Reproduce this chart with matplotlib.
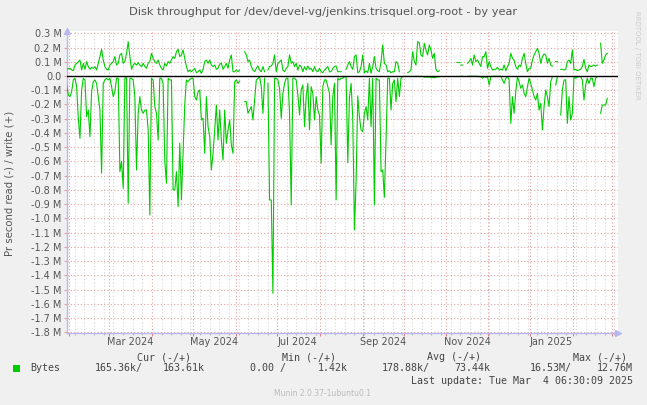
import numpy as np
import pandas as pd
import matplotlib
matplotlib.use('Agg')
import matplotlib.pyplot as plt
import matplotlib.dates as mdates
from matplotlib.ticker import MultipleLocator, FuncFormatter
from matplotlib.patches import Rectangle

nan = np.nan

# ---- data: Munin daily-consolidated disk throughput (bytes/s, in thousands) ----
start = '2024-01-30 02:00'
step = '29h'

write_k = [
    47, 52, 54, 42, 37, 77, 89, 101, 112, 42,
    89, 47, 101, 66, 47, 61, 54, 66, 42, 89,
    136, 187, 112, 66, 47, 42, 77, 89, 101, 136,
    77, 89, 148, 159, 89, 101, 159, 241, 136, 47,
    77, 89, 77, 94, 77, 66, 89, 66, 54, 89,
    101, 159, 124, 101, 89, 112, 77, 54, 42, 89,
    70, 101, 89, 112, 136, 124, 171, 187, 136, 148,
    183, 124, 66, 30, 42, 30, 42, 54, 23, 30,
    42, 19, 47, 101, 112, 89, 112, 77, 66, 77,
    47, 54, 84, 89, 47, 66, 89, 54, 112, 148,
    30, 30, 42, 30, 42, nan, nan, 171, 148, 101,
    112, 66, 42, 30, 54, 70, 42, 30, 66, 30,
    nan, 42, 66, 70, 89, 148, 30, 89, 101, 112,
    42, 30, 54, 66, 148, 89, 101, 66, 89, 42,
    77, 66, 30, 66, 42, 70, 47, 54, 30, 66,
    37, 30, 54, 30, 23, 42, 54, 66, 30, 30,
    54, 66, 70, 30, 30, 30, nan, nan, 47, 77,
    101, 66, 47, 136, 148, 23, 30, 66, 148, 23,
    37, 23, 89, 19, 66, 136, 54, 37, 30, 101,
    218, 89, 77, 30, 37, 23, 30, 30, 101, 89,
    30, nan, nan, nan, nan, 23, 30, 42, 171, 101,
    77, 241, 234, 148, 136, 230, 183, 148, 218, 183,
    124, 159, 47, 30, 37, nan, nan, nan, nan, nan,
    nan, nan, nan, nan, nan, 96, nan, 77, 77, nan,
    nan, 89, 101, 124, 77, 148, 101, 112, 89, 66,
    136, 136, 171, 54, 101, 66, 42, 47, 47, 61,
    42, 47, 42, 77, 37, 66, 89, 159, 124, 112,
    66, 47, 77, 66, 124, 159, 89, 30, 54, 54,
    112, 148, 171, 194, 159, 89, 136, 155, 148, 89,
    124, 77, 70, nan, 101, 101, nan, 47, 47, 42,
    47, 101, 112, 89, 183, 42, 47, 37, 42, 47,
    66, 117, 54, 30, 77, 66, 70, 77, 70, 77,
    nan, 230, 89, 112, 148, 159,
]

read_k = [
    -63, -133, -145, -110, -28, -16, -75, -297, -438, -100,
    -16, -28, -286, -239, -426, -110, -40, -28, -52, -145,
    -239, -683, -52, -28, -16, -28, -16, -75, -145, -110,
    -16, -16, -672, -601, -789, -16, -5, -894, -16, -16,
    -28, -145, -660, -262, -145, -239, -262, -239, -239, -379,
    -976, -16, -28, -215, -262, -450, -16, -16, -52, -600,
    -753, -16, -28, -28, -800, -800, -672, -917, -472, -870,
    -543, -200, -28, -40, -23, -16, -16, -145, -169, -110,
    -98, -309, -297, -543, -145, -356, -426, -660, -543, -379,
    -204, -449, -239, -450, -590, -239, -473, -379, -309, -484,
    -543, -40, -28, -52, -35, nan, nan, -180, -180, -262,
    -239, -215, -309, -169, -28, -16, -5, -75, -262, -16,
    nan, -52, -871, -871, -1526, -16, -16, -28, -87, -297,
    -122, -52, -16, -16, -262, -906, -16, -16, -28, -133,
    -274, -98, -63, -356, -145, -52, -379, -75, -122, -309,
    -145, -239, -274, -613, -75, -28, -28, -75, -122, -484,
    -145, -52, -871, -16, -28, -16, -16, -5, -5, -609,
    -150, -52, -300, -1081, -742, -140, -286, -379, -391, -262,
    -215, -309, -16, -356, -16, -906, -16, -28, -28, -672,
    -660, -852, -450, -16, -16, -239, -52, -28, -180, -16,
    -145, -16, -5, -3, -3, -3, -3, -3, -3, -3,
    -3, -3, -3, -3, -3, -9, -5, -9, -5, -12,
    -9, -12, -9, -5, -5, nan, nan, nan, nan, nan,
    nan, nan, nan, nan, nan, -2, nan, -2, -2, nan,
    nan, -2, -2, -2, -2, -2, -2, -2, -5, -5,
    -16, -5, -9, -5, -63, -5, -2, -2, -2, -2,
    -2, -2, -28, -52, -16, -5, -28, -333, -145, -262,
    -110, -5, -40, -87, -63, -122, -145, -75, -16, -52,
    -98, -145, -169, -122, -239, -192, -379, -215, -98, -145,
    -215, -40, -5, nan, -63, -5, nan, -274, -98, -28,
    -28, -333, -145, -309, -262, -5, -16, -5, -5, -5,
    -28, -169, -63, -16, -52, -16, -16, -75, -16, -5,
    nan, -262, -204, -204, -204, -157,
]

month_labels = ['Mar 2024', 'May 2024', 'Jul 2024', 'Sep 2024', 'Nov 2024', 'Jan 2025']
month_label_dates = ['2024-03-16', '2024-05-16', '2024-07-16', '2024-09-16', '2024-11-16', '2025-01-16']

title = 'Disk throughput for /dev/devel-vg/jenkins.trisquel.org-root - by year'
ylabel = 'Pr second read (-) / write (+)'
legend_name = 'Bytes'
stat_heads = ['Cur (-/+)', 'Min (-/+)', 'Avg (-/+)', 'Max (-/+)']
stat_vals = [('165.36k/', '163.61k'), ('0.00 /', '1.42k'), ('178.88k/', '73.44k'), ('16.53M/', '12.76M')]
last_update = 'Last update: Tue Mar  4 06:30:09 2025'
footer = 'Munin 2.0.37-1ubuntu0.1'
side = 'RRDTOOL / TOBI OETIKER'

# ---- figure ----
W, H = 647, 405
fig = plt.figure(figsize=(W / 100, H / 100), dpi=100, facecolor='#f0f0f0')
L, R, T, B = 67, 618, 31, 333
ax = fig.add_axes([L / W, 1 - B / H, (R - L) / W, (B - T) / H])
ax.set_facecolor('white')

t = pd.date_range(start, periods=len(write_k), freq=step)
w = np.array(write_k, dtype=float) / 1000.0
r = np.array(read_k, dtype=float) / 1000.0

green = '#00cc00'
ax.plot(t, w, color=green, lw=0.8, zorder=4)
ax.plot(t, r, color=green, lw=0.8, zorder=4)

def isolated(a):
    ok = ~np.isnan(a)
    prev = np.r_[False, ok[:-1]]
    nxt = np.r_[ok[1:], False]
    return ok & ~prev & ~nxt

for arr in (w, r):
    m = isolated(arr)
    ax.plot(t[m], arr[m], ls='none', marker='_', ms=3, mew=0.8, color=green, zorder=4)

ax.axhline(0, color='black', lw=1.0, zorder=5)

ax.set_xlim(pd.Timestamp('2024-01-30 08:00'), pd.Timestamp('2025-03-05 14:00'))
ax.set_ylim(-1.805, 0.316)

# grids
ax.yaxis.set_major_locator(MultipleLocator(0.1))
ax.yaxis.set_major_formatter(FuncFormatter(lambda v, p: '0.0' if abs(v) < 1e-9 else f'{v:.1f} M'))
ax.xaxis.set_major_locator(mdates.MonthLocator())
ax.xaxis.set_minor_locator(mdates.WeekdayLocator(byweekday=mdates.MO))
ax.xaxis.set_major_formatter(plt.NullFormatter())

ax.grid(which='minor', axis='x', color='#d4d4d4', ls=(0, (1, 2)), lw=0.8, zorder=1)
ax.grid(which='major', axis='x', color='#e4a0a0', ls=(0, (1, 2)), lw=0.8, zorder=2)
ax.grid(which='major', axis='y', color='#e4a0a0', ls=(0, (1, 2)), lw=0.8, zorder=2)

ax.tick_params(axis='y', which='major', length=2, width=0.8, color='#e4a0a0',
               labelsize=7, labelcolor='#555555', pad=2)
ax.tick_params(axis='x', which='major', length=2, width=0.8, color='#e08080')
ax.tick_params(axis='x', which='minor', length=1.5, width=0.8, color='#bbbbbb')

for s in ('top', 'right'):
    ax.spines[s].set_visible(False)
for s in ('left', 'bottom'):
    ax.spines[s].set_color('#b8b8ee')
    ax.spines[s].set_linewidth(1.0)

# axis arrows
ax.plot([0], [1.0], marker='^', ms=4.5, color='#b8b8ee', transform=ax.transAxes, clip_on=False, zorder=6)
ax.plot([1.0], [0], marker='>', ms=4.5, color='#b8b8ee', transform=ax.transAxes, clip_on=False, zorder=6)

# month labels
for lab, d in zip(month_labels, month_label_dates):
    ax.text(pd.Timestamp(d), -0.03, lab, transform=ax.get_xaxis_transform(),
            ha='center', va='center', fontsize=7, color='#555555')

def ft(x, y, s, **kw):
    fig.text(x / W, 1 - y / H, s, **kw)

ft(323, 12, title, ha='center', va='center', fontsize=8.2, color='#555555')
ft(10, 183, ylabel, ha='center', va='center', rotation=90, fontsize=7.3, color='#555555')
ft(637, 55, side, ha='center', va='center', rotation=270, fontsize=5, color='#cccccc')

mono = dict(family='DejaVu Sans Mono', fontsize=7.2, color='#444444', va='center')
fig.patches.append(Rectangle((13 / W, 1 - 372 / H), 7 / W, 7 / H, transform=fig.transFigure,
                             facecolor=green, edgecolor='none'))
ft(30, 368, legend_name, ha='left', **mono)
head_x = [137, 282, 427, 573]
for hx, hd in zip(head_x, stat_heads):
    ft(hx, 357, hd, ha='left', **mono)
val_x = [(95, 163), (250, 318), (382, 454), (530, 597)]
for (x1, x2), (a, b) in zip(val_x, stat_vals):
    ft(x1, 368, a, ha='left', **mono)
    ft(x2, 368, b, ha='left', **mono)
ft(633, 381, last_update, ha='right', **mono)
ft(323, 394, footer, ha='center', va='center', fontsize=5.5, color='#bbbbbb')

fig.savefig('out.png', dpi=100, facecolor=fig.get_facecolor())
